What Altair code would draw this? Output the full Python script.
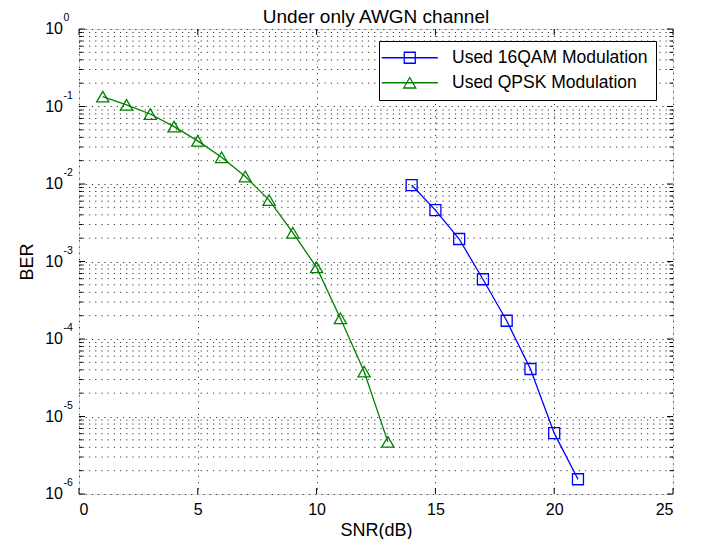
import altair as alt
import pandas as pd

# ---- data ----
series_names = ["Used 16QAM Modulation", "Used QPSK Modulation"]
qam_snr = [14, 15, 16, 17, 18, 19, 20, 21]
qam_ber = [9.7e-3, 4.6e-3, 1.95e-3, 5.9e-4, 1.72e-4, 4.1e-5, 6.1e-6, 1.55e-6]
qpsk_snr = [1, 2, 3, 4, 5, 6, 7, 8, 9, 10, 11, 12, 13]
qpsk_ber = [0.134, 0.105, 0.080, 0.055, 0.036, 0.0221, 0.0125, 0.0062,
            0.00235, 8.4e-4, 1.85e-4, 3.8e-5, 4.7e-6]
x_ticks = [0, 5, 10, 15, 20, 25]
y_exponents = [0, -1, -2, -3, -4, -5, -6]
minor_mult = [2, 3, 4, 5, 6, 7, 8, 9]

FONT = "Liberation Sans"
W, H = 594, 465
BLUE, GREEN = "#0000ff", "#008000"

qam = pd.DataFrame({"snr": qam_snr, "ber": qam_ber, "series": series_names[0]})
qpsk = pd.DataFrame({"snr": qpsk_snr, "ber": qpsk_ber, "series": series_names[1]})
both = pd.concat([qam, qpsk], ignore_index=True)

ymaj = pd.DataFrame({"ber": [10.0 ** e for e in y_exponents],
                     "exp": [str(e) for e in y_exponents]})
ymin = pd.DataFrame({"ber": [m * 10.0 ** e for e in y_exponents[1:] for m in minor_mult]})
xt = pd.DataFrame({"snr": x_ticks})

xs = alt.Scale(domain=[0, 25], nice=False, zero=False)
ys = alt.Scale(type="log", domain=[1e-6, 1], nice=False)

grid_col = "#383838"
dash = [1.2, 5]

AX_X = alt.Axis(values=x_ticks, format="d", ticks=False, domain=False,
                labelFont=FONT, labelFontSize=16, labelColor="#000",
                labelPadding=7, grid=True, gridDash=dash, gridColor=grid_col,
                title="SNR(dB)", titleFont=FONT, titleFontSize=18,
                titleFontWeight="normal", titleColor="#000",
                titleX=W / 2, titleY=36, titleBaseline="middle")
AX_Y = alt.Axis(values=[10.0 ** e for e in y_exponents], labels=False,
                ticks=False, domain=False, grid=True, gridDash=dash,
                gridColor=grid_col, title="BER", titleFont=FONT,
                titleFontSize=18, titleFontWeight="normal", titleColor="#000",
                titleX=-52, titleY=H / 2, titleBaseline="middle", titleAngle=270)

X = lambda: alt.X("snr:Q", scale=xs, axis=AX_X)
Y = lambda: alt.Y("ber:Q", scale=ys, axis=AX_Y)

minor_grid = alt.Chart(ymin).mark_rule(strokeDash=dash, color=grid_col, strokeWidth=1).encode(y=Y())

# inward ticks
tk = dict(color="#000", strokeWidth=1)
xt_bot = alt.Chart(xt).mark_rule(**tk).encode(x=X(), y=alt.value(H), y2=alt.value(H - 6))
xt_top = alt.Chart(xt).mark_rule(**tk).encode(x=X(), y=alt.value(0), y2=alt.value(6))
yt_l = alt.Chart(ymaj).mark_rule(**tk).encode(y=Y(), x=alt.value(0), x2=alt.value(6))
yt_r = alt.Chart(ymaj).mark_rule(**tk).encode(y=Y(), x=alt.value(W), x2=alt.value(W - 6))
ym_l = alt.Chart(ymin).mark_rule(**tk).encode(y=Y(), x=alt.value(0), x2=alt.value(3.5))
ym_r = alt.Chart(ymin).mark_rule(**tk).encode(y=Y(), x=alt.value(W), x2=alt.value(W - 3.5))

# y tick labels 10^k
ylab_base = alt.Chart(ymaj).mark_text(align="right", baseline="middle", font=FONT,
                                      fontSize=16, color="#000").encode(
    y=Y(), x=alt.value(-16), text=alt.value("10"))
ylab_exp = alt.Chart(ymaj).mark_text(align="left", baseline="middle", font=FONT,
                                     fontSize=10.5, color="#000", dy=-11).encode(
    y=Y(), x=alt.value(-15.5), text="exp:N")

# data
qam_line = alt.Chart(qam).mark_line(color=BLUE, strokeWidth=1.3).encode(x=X(), y=Y())
qam_pts = alt.Chart(qam).mark_point(shape="square", size=121, filled=False, color=BLUE,
                                    strokeWidth=1.3, opacity=1).encode(x=X(), y=Y())
qpsk_line = alt.Chart(qpsk).mark_line(color=GREEN, strokeWidth=1.3).encode(x=X(), y=Y())
qpsk_pts = alt.Chart(qpsk).mark_point(shape="triangle-up", size=150, filled=False, color=GREEN,
                                      strokeWidth=1.3, opacity=1).encode(x=X(), y=Y())

# legend (line + marker symbols)
sq_path = "M-5.1,0H5.1M-1,-1H1V1H-1Z"
tri_path = "M-5.1,0H5.1M0,-0.95L1.1,0.95H-1.1Z"
LEG = alt.Legend(title=None, orient="none", legendX=300, legendY=12,
                 direction="vertical", fillColor="white",
                 strokeColor="#000", padding=8,
                 labelFont=FONT, labelFontSize=17.5, labelColor="#000",
                 labelLimit=400, labelOffset=33.5, rowPadding=6,
                 symbolOffset=14,
                 symbolOpacity=1, symbolStrokeWidth=1.3, symbolSize=121)
legend_layer = alt.Chart(both).mark_point(opacity=0, filled=False, size=121, strokeWidth=1.3).encode(
    x=X(), y=Y(),
    color=alt.Color("series:N", scale=alt.Scale(domain=series_names, range=[BLUE, GREEN]), legend=LEG),
    shape=alt.Shape("series:N", scale=alt.Scale(domain=series_names, range=[sq_path, tri_path]), legend=LEG),
)

chart = alt.layer(
    minor_grid, xt_bot, xt_top, yt_l, yt_r, ym_l, ym_r,
    ylab_base, ylab_exp, qpsk_line, qpsk_pts, qam_line, qam_pts, legend_layer,
).properties(
    width=W, height=H,
    title=alt.TitleParams("Under only AWGN channel", font=FONT, fontSize=19,
                          fontWeight="normal", color="#000", anchor="middle",
                          frame="group", offset=4, dy=17.5),
    autosize=alt.AutoSizeParams(type="none"),
    padding={"left": 71, "top": 21, "right": 21, "bottom": 45},
).configure_view(stroke="#000", strokeWidth=1.3).configure(background="white")

chart.save("out.html", embed_options={"renderer": "svg", "actions": False})
